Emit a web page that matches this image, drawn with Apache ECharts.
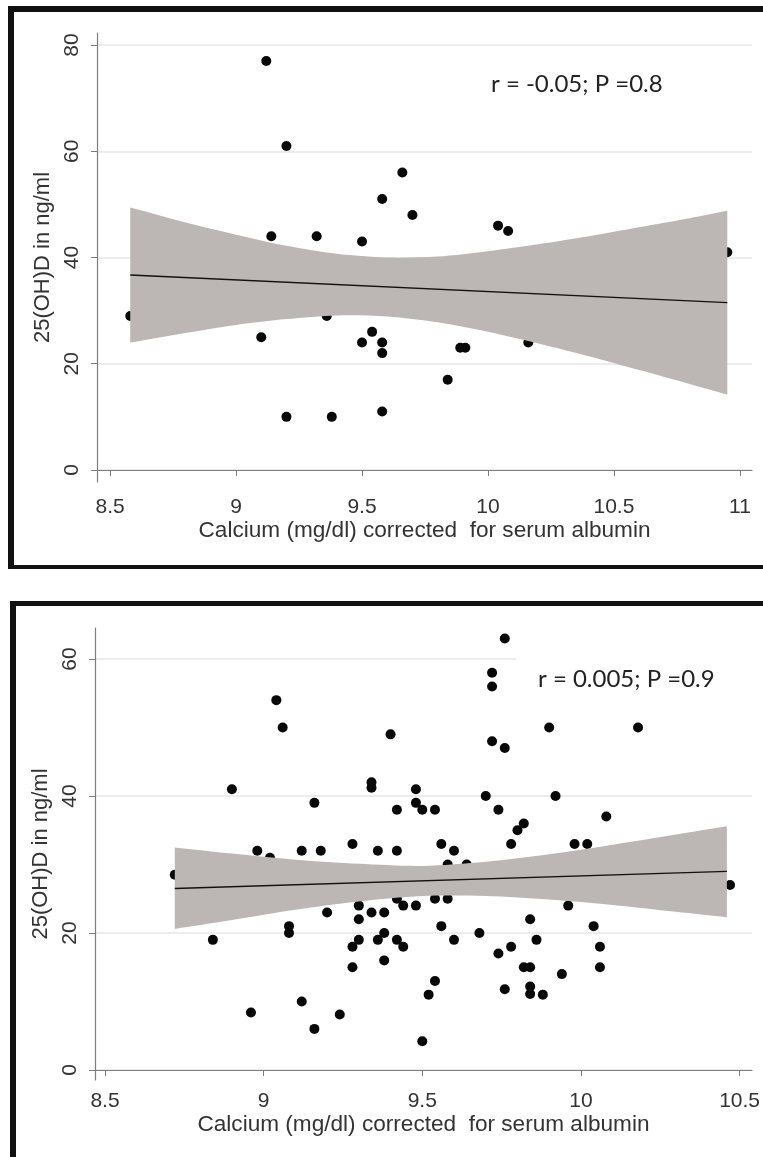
<!DOCTYPE html>
<html>
<head>
<meta charset="utf-8">
<script src="https://cdn.jsdelivr.net/npm/echarts@6.0.0/dist/echarts.min.js"></script>
<style>
html, body { margin: 0; padding: 0; background: #fff; }
#chart-container { width: 763px; height: 1157px; }
</style>
</head>
<body>
<div id="chart-container"></div>
<script>
// panel 1 : 25 patients
var calciumTop = [9.12, 9.20, 9.66, 9.58, 9.70, 9.14, 9.32, 9.50, 8.58, 9.36, 9.10, 9.54, 9.50, 9.58, 9.58, 9.20, 9.38, 9.58, 10.04, 10.08, 10.95, 9.89, 9.91, 10.16, 9.84];
var vitdTop = [77, 61, 56, 51, 48, 44, 44, 43, 29, 29, 25, 26, 24, 24, 22, 10, 10, 11, 46, 45, 41, 23, 23, 24, 17];
var fitXTop = [8.58, 10.95];
var fitYTop = [36.7, 31.5];
var bandXTop = [8.58, 8.8, 9.0, 9.2, 9.4, 9.6, 9.8, 10.0, 10.2, 10.4, 10.6, 10.8, 10.95];
var bandLoTop = [24.0, 25.8, 27.3, 28.4, 29.1, 28.9, 27.8, 26.0, 23.8, 21.4, 18.8, 16.2, 14.2];
var bandHiTop = [49.4, 46.6, 44.3, 42.2, 40.7, 40.0, 40.2, 41.2, 42.5, 44.0, 45.7, 47.4, 48.8];
var xTicksTop = [8.5, 9, 9.5, 10, 10.5, 11];
var yTicksTop = [0, 20, 40, 60, 80];

// panel 2
var calciumBottom = [9.04, 9.06, 9.40, 8.90, 9.34, 9.34, 9.48, 9.16, 9.42, 9.48, 9.50, 8.98, 9.02, 9.12, 9.18, 9.28, 9.36, 9.42, 8.72,
    9.20, 9.30, 9.30, 9.34, 9.38, 9.42, 9.44, 9.48, 9.08, 9.08, 8.84, 9.30, 9.28, 9.36, 9.38, 9.42, 9.44, 9.28, 9.38, 9.52, 9.12,
    8.96, 9.24, 9.16, 9.50,
    9.76, 9.72, 9.72, 9.90, 10.18, 9.72, 9.76, 9.70, 9.92, 9.54, 9.74, 10.08, 9.82, 9.80, 9.56, 9.60, 9.78, 9.98, 10.02, 9.58, 9.64,
    9.54, 9.58, 9.96, 9.56, 9.60, 9.68, 9.84, 10.04, 9.86, 9.78, 9.74, 10.06, 9.82, 9.84, 10.06, 9.94, 9.54, 9.76, 9.84, 9.84, 9.88, 10.47];
var vitdBottom = [54, 50, 49, 41, 42, 41.2, 41, 39, 38, 39, 38, 32, 31, 32, 32, 33, 32, 32, 28.5,
    23, 24, 22, 23, 23, 25, 24, 24, 21, 20, 19, 19, 18, 19, 20, 19, 18, 15, 16, 11, 10,
    8.4, 8.1, 6, 4.2,
    63, 58, 56, 50, 50, 48, 47, 40, 40, 38, 38, 37, 36, 35, 33, 32, 33, 33, 33, 30, 30,
    25, 25, 24, 21, 19, 20, 22, 21, 19, 18, 17, 18, 15, 15, 15, 14, 13, 11.8, 12.2, 11.1, 11, 27];
var fitXBottom = [8.72, 10.46];
var fitYBottom = [26.5, 29.0];
var bandXBottom = [8.72, 8.9, 9.1, 9.3, 9.5, 9.7, 9.9, 10.1, 10.3, 10.46];
var bandLoBottom = [20.6, 21.9, 23.4, 24.6, 25.4, 25.4, 24.9, 24.1, 23.1, 22.3];
var bandHiBottom = [32.5, 31.6, 30.7, 30.1, 29.8, 30.4, 31.5, 32.9, 34.4, 35.6];
var xTicksBottom = [8.5, 9, 9.5, 10, 10.5];
var yTicksBottom = [0, 20, 40, 60];

var xTitle = 'Calcium (mg/dl) corrected  for serum albumin';
var yTitle = '25(OH)D in ng/ml';
var noteTop = 'r = -0.05; P =0.8';
var noteBottom = 'r = 0.005; P =0.9';

var axisGray = '#7d7d7d';
var textGray = '#333';
var font = '"Liberation Sans", Arial, sans-serif';

function pairs(xs, ys) {
    return xs.map(function (x, i) { return [x, ys[i]]; });
}

function xAxisFor(grid, min, max, ticks, labelMargin, nameGap) {
    return {
        type: 'value', gridIndex: grid, min: min, max: max,
        name: xTitle, nameLocation: 'middle', nameGap: nameGap,
        nameTextStyle: { fontFamily: font, fontSize: 22.6, color: textGray },
        axisLine: { show: true, lineStyle: { color: axisGray, width: 1.2 } },
        axisTick: { show: true, length: 6, customValues: ticks, lineStyle: { color: axisGray } },
        axisLabel: { customValues: ticks, margin: labelMargin, fontFamily: font, fontSize: 21, color: textGray },
        splitLine: { show: false }
    };
}

function yAxisFor(grid, min, max, ticks, nameGap) {
    return {
        type: 'value', gridIndex: grid, min: min, max: max,
        name: yTitle, nameLocation: 'middle', nameGap: nameGap,
        nameTextStyle: { fontFamily: font, fontSize: 22, color: textGray },
        axisLine: { show: true, lineStyle: { color: axisGray, width: 1.2 } },
        axisTick: { show: true, length: 6, customValues: ticks, lineStyle: { color: axisGray } },
        axisLabel: { customValues: ticks, rotate: 90, margin: 14, fontFamily: font, fontSize: 21, color: textGray },
        splitLine: { show: true, lineStyle: { color: '#e6e6e6', width: 1.5 } }
    };
}

// confidence band drawn as one smoothed polygon: upper edge left->right, lower edge back.
// corner points are doubled so the vertical ends stay straight
function bandSeries(idx, bx, lo, hi) {
    return {
        type: 'custom', xAxisIndex: idx, yAxisIndex: idx, z: 3, silent: true,
        data: bx.map(function (x, i) { return [x, lo[i], hi[i]]; }),
        renderItem: function (params, api) {
            if (params.dataIndex !== 0) return;
            var n = bx.length;
            var pts = [];
            pts.push(api.coord([bx[0], hi[0]]));
            for (var i = 0; i < n; i++) pts.push(api.coord([bx[i], hi[i]]));
            pts.push(api.coord([bx[n - 1], hi[n - 1]]));
            pts.push(api.coord([bx[n - 1], lo[n - 1]]));
            for (var j = n - 1; j >= 0; j--) pts.push(api.coord([bx[j], lo[j]]));
            pts.push(api.coord([bx[0], lo[0]]));
            return { type: 'polygon', shape: { points: pts, smooth: 0.3 }, style: { fill: '#bcb6b4' } };
        }
    };
}

function panelSeries(idx, xs, ys, fx, fy, bx, lo, hi) {
    return [
        {
            type: 'scatter', xAxisIndex: idx, yAxisIndex: idx, z: 2,
            symbolSize: 10, itemStyle: { color: '#080808', opacity: 1 },
            data: pairs(xs, ys)
        },
        bandSeries(idx, bx, lo, hi),
        {
            type: 'line', xAxisIndex: idx, yAxisIndex: idx, z: 4,
            symbol: 'none', lineStyle: { color: '#111', width: 1.4 },
            data: pairs(fx, fy)
        }
    ];
}

var dom = document.getElementById('chart-container');
var myChart = echarts.init(dom, null, { renderer: 'canvas' });

var option = {
    backgroundColor: '#fff',
    animation: false,
    grid: [
        { left: 97, top: 33, width: 655, height: 449 },
        { left: 95, top: 628, width: 658, height: 452 }
    ],
    xAxis: [
        xAxisFor(0, 8.448, 11.048, xTicksTop, 15, 37),
        xAxisFor(1, 8.4685, 10.539, xTicksBottom, 11, 32)
    ],
    yAxis: [
        yAxisFor(0, -2.26, 82.26, yTicksTop, 41),
        yAxisFor(1, -1.46, 64.53, yTicksBottom, 39)
    ],
    series: panelSeries(0, calciumTop, vitdTop, fitXTop, fitYTop, bandXTop, bandLoTop, bandHiTop)
        .concat(panelSeries(1, calciumBottom, vitdBottom, fitXBottom, fitYBottom, bandXBottom, bandLoBottom, bandHiBottom)),
    graphic: [
        // white box behind the second note hides part of the 60 gridline
        { type: 'rect', z: 1, shape: { x: 516, y: 648, width: 240, height: 50 }, style: { fill: '#fff' } },
        { type: 'text', z: 5, x: 491, y: 84, style: { text: noteTop, fontFamily: 'Lato, "Open Sans", sans-serif', fontSize: 24, fill: '#222', verticalAlign: 'middle' } },
        { type: 'text', z: 5, x: 538, y: 679, style: { text: noteBottom, fontFamily: 'Lato, "Open Sans", sans-serif', fontSize: 24, fill: '#222', verticalAlign: 'middle' } },
        // panel frames
        { type: 'rect', z: 10, shape: { x: 8, y: 6, width: 755, height: 6 }, style: { fill: '#111' } },
        { type: 'rect', z: 10, shape: { x: 8, y: 6, width: 6, height: 563 }, style: { fill: '#111' } },
        { type: 'rect', z: 10, shape: { x: 8, y: 565, width: 755, height: 4 }, style: { fill: '#111' } },
        { type: 'rect', z: 10, shape: { x: 10, y: 601, width: 753, height: 5 }, style: { fill: '#111' } },
        { type: 'rect', z: 10, shape: { x: 10, y: 601, width: 6, height: 556 }, style: { fill: '#111' } }
    ]
};

myChart.setOption(option);

window.addEventListener('resize', function () {
    myChart.resize();
});
</script>
</body>
</html>
